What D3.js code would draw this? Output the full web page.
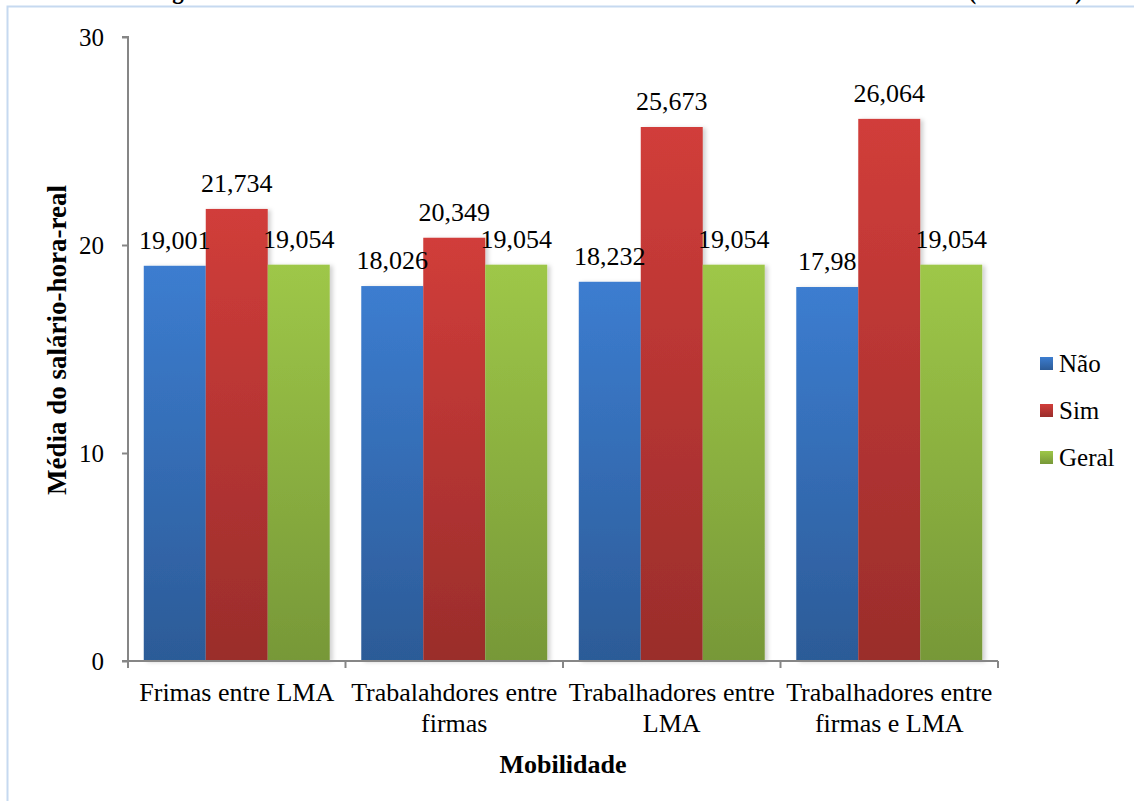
<!DOCTYPE html>
<html>
<head>
<meta charset="utf-8">
<script src="https://cdn.jsdelivr.net/npm/d3@7"></script>
<style>
  html, body { margin: 0; padding: 0; background: #fff; }
  svg { display: block; }
  svg text { font-family: "Liberation Serif", "Times New Roman", serif; }
</style>
</head>
<body>
<svg id="chart" width="1134" height="801"></svg>
<script>
// Mobility categories (x axis)
const categories = [
  ["Frimas entre LMA"],
  ["Trabalahdores entre", "firmas"],
  ["Trabalhadores entre", "LMA"],
  ["Trabalhadores entre", "firmas e LMA"]
];
const seriesNames = ["Não", "Sim", "Geral"];
// Mean real hourly wage per series, one value per category
const naoValues = [19.001, 18.026, 18.232, 17.98];
const simValues = [21.734, 20.349, 25.673, 26.064];
const geralValues = [19.054, 19.054, 19.054, 19.054];
const yTicks = [0, 10, 20, 30];
const titleText = "Figura 4.1: Salário-hora-real médio com mobilidade entre firmas e mercados locais (2010-2013)";
const yTitle = "Média do salário-hora-real";
const xTitle = "Mobilidade";

const seriesValues = [naoValues, simValues, geralValues];
const colors = [
  { top: "#3c7dd0", bottom: "#2c5b97" },
  { top: "#d13d3a", bottom: "#9a2d2b" },
  { top: "#9ec748", bottom: "#779838" }
];

const svg = d3.select("#chart");
const defs = svg.append("defs");
colors.forEach((c, i) => {
  const g = defs.append("linearGradient")
    .attr("id", "grad" + i).attr("x1", 0).attr("y1", 0).attr("x2", 0).attr("y2", 1);
  g.append("stop").attr("offset", "0%").attr("stop-color", c.top);
  g.append("stop").attr("offset", "100%").attr("stop-color", c.bottom);
});
const shadow = defs.append("filter").attr("id", "shadow")
  .attr("x", "-10%").attr("y", "-5%").attr("width", "130%").attr("height", "115%");
shadow.append("feDropShadow").attr("dx", 3).attr("dy", 1).attr("stdDeviation", 2)
  .attr("flood-color", "#000").attr("flood-opacity", 0.18);

// Chart frame (outer border)
svg.append("path")
  .attr("d", "M7.5,801 V6.5 H1134")
  .attr("fill", "none").attr("stroke", "#c6d9f0").attr("stroke-width", 2);

// Title (runs off the top edge)
svg.append("text")
  .attr("x", 152).attr("y", -1)
  .attr("textLength", 931).attr("lengthAdjust", "spacingAndGlyphs")
  .attr("font-size", 25).attr("font-weight", "bold").attr("fill", "#000")
  .text(titleText);

const margin = { left: 128, right: 998, top: 37, bottom: 661 };

const x0 = d3.scaleBand()
  .domain(d3.range(categories.length))
  .range([margin.left, margin.right])
  .paddingInner(0.145).paddingOuter(0.0725);
const x1 = d3.scaleBand()
  .domain(d3.range(seriesNames.length))
  .range([0, x0.bandwidth()]);
const y = d3.scaleLinear().domain([0, 30]).range([margin.bottom, margin.top]);

const fmt = d3.formatLocale({ decimal: ",", thousands: ".", grouping: [3], currency: ["", ""] }).format(".3~f");

// Bars
const groups = svg.append("g").selectAll("g")
  .data(categories.map((c, i) => i))
  .join("g")
  .attr("transform", i => `translate(${x0(i)},0)`);

groups.selectAll("rect")
  .data(i => seriesValues.map((vals, s) => ({ s, v: vals[i] })))
  .join("rect")
  .attr("x", d => x1(d.s))
  .attr("width", x1.bandwidth())
  .attr("y", d => y(d.v))
  .attr("height", d => y(0) - y(d.v))
  .attr("fill", d => `url(#grad${d.s})`)
  .attr("filter", "url(#shadow)");

// Axes
const axisColor = "#868686";
const yAxis = svg.append("g")
  .attr("transform", `translate(${margin.left},0)`)
  .call(d3.axisLeft(y).tickValues(yTicks).tickFormat(d3.format("d")).tickSize(6).tickPadding(18));
yAxis.select(".domain").attr("stroke", axisColor).attr("stroke-width", 2).attr("d", `M-6,${margin.top}H0V${margin.bottom}`);
yAxis.selectAll(".tick line").attr("stroke", axisColor).attr("stroke-width", 2);
yAxis.selectAll(".tick text").attr("font-size", 25).attr("fill", "#000")
  .attr("font-family", "Liberation Serif, Times New Roman, serif");

const xAxis = svg.append("g");
xAxis.append("line")
  .attr("x1", margin.left - 6).attr("x2", margin.right)
  .attr("y1", margin.bottom).attr("y2", margin.bottom)
  .attr("stroke", axisColor).attr("stroke-width", 2);
const boundaries = d3.range(categories.length + 1).map(i =>
  i < categories.length ? x0(i) - x0.step() * x0.paddingInner() / 2 : margin.right);
xAxis.selectAll("line.tick").data(boundaries).join("line")
  .attr("class", "tick")
  .attr("x1", d => d).attr("x2", d => d)
  .attr("y1", margin.bottom).attr("y2", margin.bottom + 7)
  .attr("stroke", axisColor).attr("stroke-width", 2);

// Category labels
const catText = svg.append("g").selectAll("text")
  .data(categories)
  .join("text")
  .attr("text-anchor", "middle")
  .attr("font-size", 26)
  .attr("fill", "#000")
  .attr("transform", (d, i) => `translate(${x0(i) + x0.bandwidth() / 2},701)`);
catText.selectAll("tspan").data(d => d).join("tspan")
  .attr("x", 0).attr("y", (d, j) => j * 31)
  .text(d => d);

// Value labels
groups.selectAll("text.val")
  .data(i => seriesValues.map((vals, s) => ({ s, v: vals[i] })))
  .join("text")
  .attr("class", "val")
  .attr("x", d => x1(d.s) + x1.bandwidth() / 2)
  .attr("y", d => y(d.v) - 17)
  .attr("text-anchor", "middle")
  .attr("font-size", 26)
  .attr("fill", "#000")
  .text(d => fmt(d.v));

// Axis titles
svg.append("text")
  .attr("x", 563).attr("y", 773)
  .attr("text-anchor", "middle").attr("font-size", 26).attr("font-weight", "bold")
  .text(xTitle);
svg.append("text")
  .attr("transform", "translate(66,340) rotate(-90)")
  .attr("text-anchor", "middle").attr("font-size", 27).attr("font-weight", "bold")
  .text(yTitle);

// Legend
const legend = svg.append("g").attr("transform", "translate(1040,357)")
  .selectAll("g").data(seriesNames).join("g")
  .attr("transform", (d, i) => `translate(0,${i * 47})`);
legend.append("rect").attr("width", 13).attr("height", 13)
  .attr("fill", (d, i) => `url(#grad${i})`);
legend.append("text").attr("x", 19).attr("y", 15)
  .attr("font-size", 25).attr("fill", "#000").text(d => d);
</script>
</body>
</html>
